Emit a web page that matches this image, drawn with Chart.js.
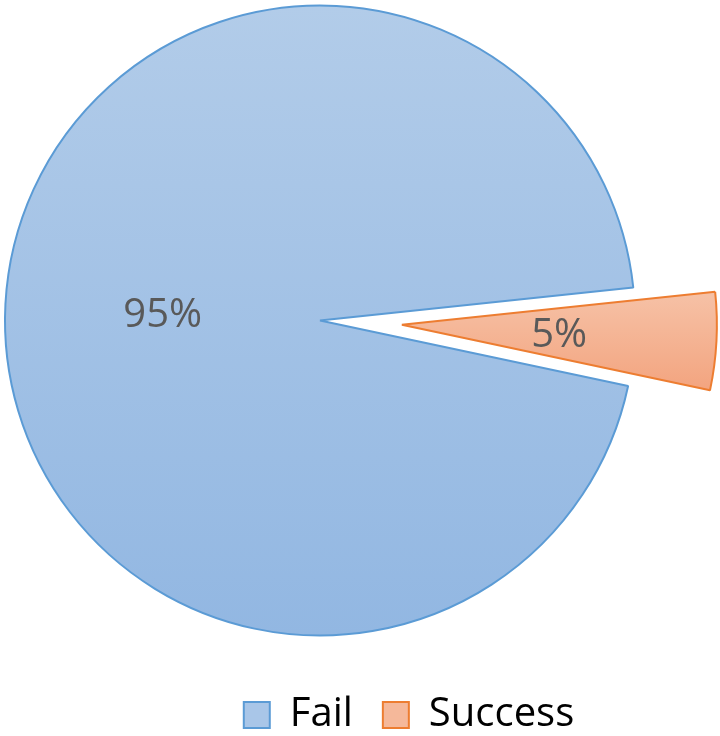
<!DOCTYPE html>
<html>
<head>
<meta charset="utf-8">
<script src="https://cdn.jsdelivr.net/npm/chart.js@4.4.1/dist/chart.umd.min.js"></script>
<style>
  html, body { margin: 0; padding: 0; background: #fff; }
  #wrap { width: 720px; height: 736px; }
</style>
</head>
<body>
<div id="wrap"><canvas id="chart"></canvas></div>
<script>
const categories = ['Fail', 'Success'];
const shares = [95, 5];

const EXPLODE = 82;   // how far the success slice is pulled out
const PIE_R = 315;

function vGrad(chart, y0, y1, c0, c1) {
  const g = chart.ctx.createLinearGradient(0, y0, 0, y1);
  g.addColorStop(0, c0);
  g.addColorStop(1, c1);
  return g;
}

function sliceFill(c) {
  const chart = c.chart;
  const area = chart.chartArea;
  if (!area) return c.dataIndex === 0 ? '#a3c1e6' : '#f4b292';
  const cy = (area.top + area.bottom) / 2;
  if (c.dataIndex === 0) return vGrad(chart, cy - PIE_R, cy + PIE_R, '#b2cce9', '#92b7e2');
  return vGrad(chart, cy - 30, cy + 70, '#f6c2a7', '#f3a47f');
}

// pull the success arc out along its mid angle, keeping its radius and angle
// (the built-in offset option also grows the radius of thin slices)
const explode = {
  id: 'explode',
  afterDatasetsUpdate(chart) {
    const arc = chart.getDatasetMeta(0).data[1];
    if (!arc) return;
    const mid = (arc.startAngle + arc.endAngle) / 2;
    arc.x += Math.cos(mid) * EXPLODE;
    arc.y += Math.sin(mid) * EXPLODE;
  }
};

// percentage labels placed at half radius along each slice
const pctLabels = {
  id: 'pctLabels',
  afterDatasetsDraw(chart) {
    const meta = chart.getDatasetMeta(0);
    const total = shares.reduce((a, b) => a + b, 0);
    const ctx = chart.ctx;
    ctx.save();
    ctx.font = '40px "Open Sans"';
    ctx.fillStyle = '#595959';
    ctx.textAlign = 'center';
    ctx.textBaseline = 'middle';
    meta.data.forEach((arc, i) => {
      const mid = (arc.startAngle + arc.endAngle) / 2;
      const r = arc.outerRadius / 2;
      ctx.fillText(Math.round(shares[i] / total * 100) + '%', arc.x + Math.cos(mid) * r, arc.y + Math.sin(mid) * r + 3);
    });
    ctx.restore();
  }
};

// legend sits to the right of the pie centre and a bit lower in the original
const legendShift = {
  id: 'legendShift',
  afterLayout(chart) {
    const lg = chart.legend;
    lg.left += 89;
    lg.right += 89;
    lg.top += 24;
    lg.bottom += 24;
  }
};

new Chart(document.getElementById('chart'), {
  type: 'pie',
  data: {
    labels: categories,
    datasets: [{
      data: shares,
      backgroundColor: sliceFill,
      borderColor: ['#5b9bd5', '#ed7d31'],
      borderWidth: 2,
      radius: PIE_R
    }]
  },
  options: {
    responsive: true,
    maintainAspectRatio: false,
    animation: false,
    rotation: 102,
    layout: { padding: { left: 0, right: 80, top: 0, bottom: 15 } },
    plugins: {
      tooltip: { enabled: false },
      legend: {
        position: 'bottom',
        labels: {
          font: { family: '"Open Sans"', size: 40 },
          color: '#000',
          boxWidth: 26,
          boxHeight: 26,
          padding: 30,
          generateLabels(chart) {
            const items = Chart.overrides.pie.plugins.legend.labels.generateLabels(chart);
            const fills = ['#a9c6e8', '#f5b89a'];
            items.forEach((it, i) => { it.fillStyle = fills[i]; it.lineWidth = 2; });
            return items;
          }
        }
      }
    }
  },
  plugins: [explode, pctLabels, legendShift]
});
</script>
</body>
</html>
